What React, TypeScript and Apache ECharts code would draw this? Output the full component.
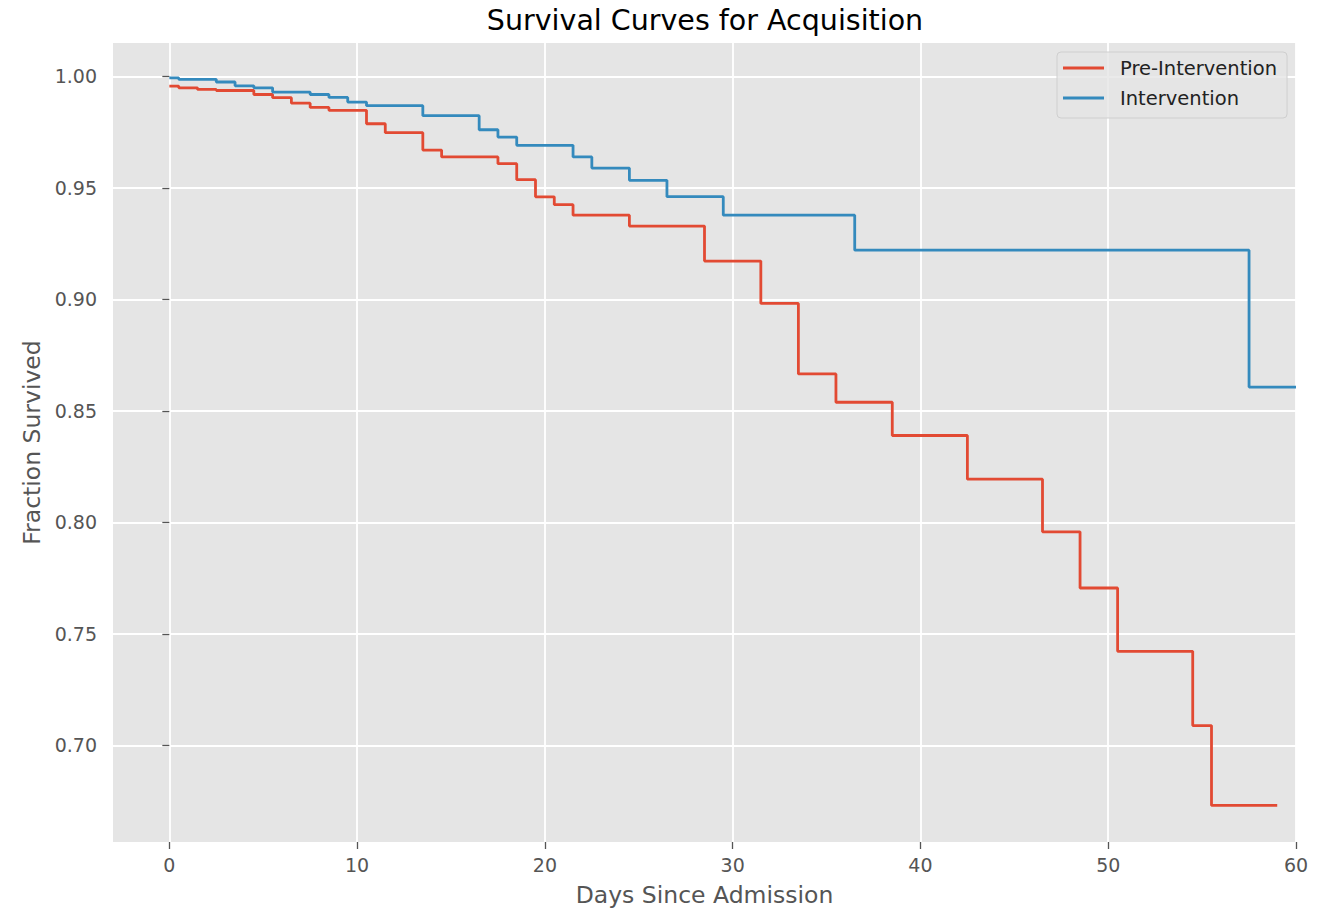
import React, { useEffect, useRef } from "react";
import * as echarts from "echarts";

const chartTitle = "Survival Curves for Acquisition";
const xAxisName = "Days Since Admission";
const yAxisName = "Fraction Survived";
const seriesNames = ["Pre-Intervention", "Intervention"];

// Pre-Intervention: step changes (day, survival fraction held from that day)
const preDays = [0, 0.5, 1.5, 2.5, 4.5, 5.5, 6.5, 7.5, 8.5, 10.5, 11.5, 13.5, 14.5, 17.5, 18.5, 19.5, 20.5, 21.5, 24.5, 28.5, 31.5, 33.5, 35.5, 38.5, 42.5, 46.5, 48.5, 50.5, 54.5, 55.5, 59];
const preSurv = [0.9957, 0.9949, 0.9942, 0.9937, 0.9919, 0.9905, 0.988, 0.9861, 0.9848, 0.9788, 0.9748, 0.967, 0.9639, 0.9609, 0.9537, 0.946, 0.9425, 0.9378, 0.9329, 0.9172, 0.8982, 0.8666, 0.8539, 0.839, 0.8194, 0.7958, 0.7706, 0.7422, 0.7089, 0.6731, 0.6731];

// Intervention
const intDays = [0, 0.5, 2.5, 3.5, 4.5, 5.5, 7.5, 8.5, 9.5, 10.5, 13.5, 16.5, 17.5, 18.5, 21.5, 22.5, 24.5, 26.5, 29.5, 36.5, 57.5, 60];
const intSurv = [0.9994, 0.9987, 0.9975, 0.9958, 0.9949, 0.993, 0.9919, 0.9906, 0.9885, 0.9869, 0.9824, 0.9761, 0.9728, 0.9691, 0.9639, 0.9589, 0.9534, 0.9461, 0.9378, 0.9221, 0.8607, 0.8607];

const xTicks = [0, 10, 20, 30, 40, 50, 60];
const yTicks = [0.7, 0.75, 0.8, 0.85, 0.9, 0.95, 1.0];

const colors = ["#E24A33", "#348ABD"];
const FONT = "DejaVu Sans";

export default function App() {
  const ref = useRef<HTMLDivElement>(null);
  useEffect(() => {
    if (!ref.current) return;
    const chart = echarts.init(ref.current, null, { renderer: "svg" });
    const zip = (xs: number[], ys: number[]) => xs.map((x, i) => [x, ys[i]]);
    chart.setOption({
      animation: false,
      backgroundColor: "#ffffff",
      textStyle: { fontFamily: FONT },
      title: {
        text: chartTitle,
        left: 700,
        textAlign: "center",
        top: 1,
        textStyle: { fontFamily: FONT, fontSize: 28.5, fontWeight: "normal", color: "#000000" },
      },
      legend: {
        orient: "vertical",
        left: 1057,
        top: 52,
        padding: [6, 10, 10, 6],
        itemGap: 10,
        itemWidth: 41,
        itemHeight: 3,
        icon: "rect",
        backgroundColor: "rgba(229,229,229,0.8)",
        borderColor: "#cfcfcf",
        borderWidth: 1,
        borderRadius: 4,
        textStyle: { fontFamily: FONT, fontSize: 19.5, color: "#222222", padding: [0, 0, 0, 11] },
        data: seriesNames,
      },
      grid: { left: 113, right: 36, top: 43, bottom: 69, backgroundColor: "#E5E5E5", show: true, borderWidth: 0 },
      xAxis: {
        type: "value",
        min: -3,
        max: 60,
        name: xAxisName,
        nameLocation: "middle",
        nameGap: 41,
        nameTextStyle: { fontFamily: FONT, fontSize: 23.5, color: "#555555" },
        axisLine: { show: false },
        axisTick: { show: true, length: 7, customValues: xTicks, lineStyle: { color: "#555555", width: 1.3 } },
        axisLabel: { customValues: xTicks, margin: 13, fontFamily: FONT, fontSize: 19, color: "#555555" },
        splitLine: { show: true, lineStyle: { color: "#ffffff", width: 1.8 } },
      },
      yAxis: {
        type: "value",
        min: 0.6567,
        max: 1.015,
        name: yAxisName,
        nameLocation: "middle",
        nameGap: 69,
        nameTextStyle: { fontFamily: FONT, fontSize: 23.5, color: "#555555" },
        axisLine: { show: false },
        axisTick: { show: true, length: 7, customValues: yTicks, lineStyle: { color: "#555555", width: 1.3 } },
        axisLabel: {
          customValues: yTicks,
          margin: 16,
          fontFamily: FONT,
          fontSize: 19,
          color: "#555555",
          formatter: (v: number) => v.toFixed(2),
        },
        splitLine: { show: true, lineStyle: { color: "#ffffff", width: 1.8 } },
      },
      series: [
        {
          name: seriesNames[0],
          type: "line",
          step: "end",
          showSymbol: false,
          symbol: "none",
          color: colors[0],
          lineStyle: { color: colors[0], width: 2.8 },
          data: zip(preDays, preSurv),
          z: 3,
        },
        {
          name: seriesNames[1],
          type: "line",
          step: "end",
          showSymbol: false,
          symbol: "none",
          color: colors[1],
          lineStyle: { color: colors[1], width: 2.8 },
          data: zip(intDays, intSurv),
          z: 3,
        },
      ],
    });
    return () => chart.dispose();
  }, []);
  return <div ref={ref} style={{ width: 1332, height: 912, position: "absolute", left: 0, top: 0 }} />;
}
